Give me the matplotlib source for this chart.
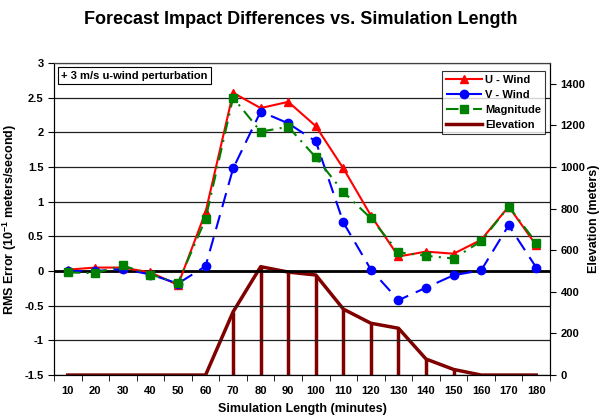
import matplotlib
matplotlib.use("Agg")
import matplotlib.pyplot as plt
import numpy as np
from matplotlib.ticker import FixedLocator

plt.rcParams["font.family"] = ["Liberation Sans", "DejaVu Sans"]
plt.rcParams["font.weight"] = "bold"
plt.rcParams["mathtext.fontset"] = "custom"
plt.rcParams["mathtext.rm"] = "Liberation Sans:bold"
plt.rcParams["mathtext.default"] = "rm"

minutes = [10, 20, 30, 40, 50, 60, 70, 80, 90, 100, 110, 120, 130, 140, 150, 160, 170, 180]
u_wind = [0.02, 0.05, 0.05, -0.02, -0.20, 0.85, 2.57, 2.35, 2.44, 2.09, 1.48, 0.80, 0.21, 0.28, 0.25, 0.45, 0.93, 0.37]
v_wind = [0.00, 0.00, 0.03, -0.05, -0.18, 0.07, 1.48, 2.30, 2.13, 1.87, 0.70, 0.02, -0.42, -0.24, -0.06, 0.01, 0.66, 0.05]
magnitude = [-0.02, -0.03, 0.08, -0.05, -0.17, 0.75, 2.50, 2.01, 2.08, 1.64, 1.14, 0.76, 0.27, 0.22, 0.18, 0.43, 0.93, 0.41]
elevation = [0, 0, 0, 0, 0, 0, 304, 521, 495, 481, 317, 249, 225, 77, 27, 0, 0, 0]

x = np.arange(len(minutes))

fig = plt.figure(figsize=(6.02, 4.2), dpi=100)
ax = fig.add_axes([0.0897, 0.107, 0.824, 0.743])
ax2 = ax.twinx()

# horizontal grid from the left axis
for yv in np.arange(-1.5, 3.01, 0.5):
    ax.axhline(yv, color="#202020", lw=0.9, zorder=0)
ax.axhline(0, color="black", lw=2, zorder=1)

# elevation on the right axis, drawn under the wind lines
ax2.vlines(x, 0, elevation, color="#800000", lw=2.5)
ax2.plot(x, elevation, color="#800000", lw=2.5, label="Elevation")
ax2.set_ylim(0, 1500)
ax2.set_yticks(range(0, 1401, 200))
ax2.set_ylabel("Elevation (meters)", fontsize=9, fontweight="bold", labelpad=2)

ax.set_zorder(ax2.get_zorder() + 1)
ax.patch.set_visible(False)

l1, = ax.plot(x, u_wind, color="red", lw=1.5, marker="^", ms=6, label="U - Wind")
l2, = ax.plot(x, v_wind, color="blue", lw=1.5, ls=(0, (7, 4)), marker="o", ms=6, label="V - Wind")
l3, = ax.plot(x, magnitude, color="green", lw=1.5, ls=(0, (6, 3, 1, 3)), marker="s", ms=5.5, label="Magnitude")
l4, = ax.plot([], [], color="#800000", lw=2.5, label="Elevation")

ax.set_xlim(-0.5, len(minutes) - 0.5)
ax.set_ylim(-1.5, 3)
ax.set_yticks(np.arange(-1.5, 3.01, 0.5))
ax.set_yticklabels(["-1.5", "-1", "-0.5", "0", "0.5", "1", "1.5", "2", "2.5", "3"])
ax.set_xticks(x)
ax.set_xticklabels([str(m) for m in minutes])
ax.xaxis.set_minor_locator(FixedLocator(np.arange(-0.5, len(minutes), 1.0)))
ax.tick_params(axis="x", which="major", length=0, pad=8, labelsize=8)
ax.tick_params(axis="x", which="minor", length=4, direction="out")
ax.tick_params(axis="y", labelsize=8, length=4)
ax2.tick_params(axis="y", labelsize=8, length=4)
for t in ax.get_xticklabels() + ax.get_yticklabels() + ax2.get_yticklabels():
    t.set_fontweight("bold")

ax.set_xlabel("Simulation Length (minutes)", fontsize=9, fontweight="bold", labelpad=5)
ax.set_ylabel("RMS Error (10$^{-1}$ meters/second)", fontsize=9, fontweight="bold", labelpad=4)

for s in ["top"]:
    ax.spines[s].set_color("#404040")
    ax2.spines[s].set_color("#404040")

ax.text(0.015, 0.975, "+ 3 m/s u-wind perturbation", transform=ax.transAxes, fontsize=8,
        fontweight="bold", va="top", ha="left",
        bbox=dict(boxstyle="square,pad=0.3", fc="white", ec="black", lw=0.8))

leg = ax.legend(handles=[l1, l2, l3, l4], loc="upper right", bbox_to_anchor=(0.99, 0.975),
                fontsize=8, frameon=True, fancybox=False, edgecolor="black",
                borderpad=0.35, labelspacing=0.45, handlelength=3.2, handletextpad=0.3,
                borderaxespad=0)
leg.get_frame().set_linewidth(0.8)
for t in leg.get_texts():
    t.set_fontweight("bold")

fig.suptitle("Forecast Impact Differences vs. Simulation Length", fontsize=13,
             fontweight="bold", x=0.5, y=0.975)

fig.savefig("out.png", dpi=100)
